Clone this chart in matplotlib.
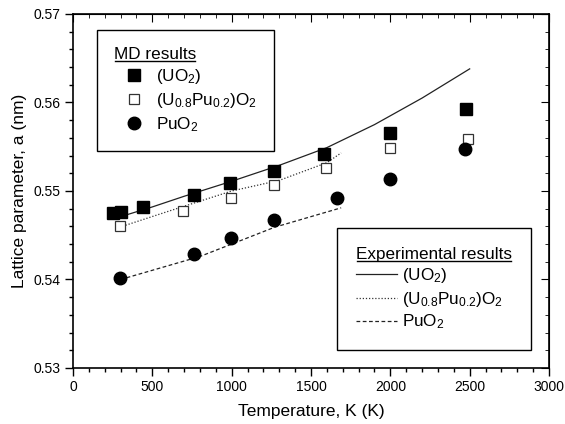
import matplotlib
matplotlib.use('Agg')
import matplotlib.pyplot as plt
from matplotlib.lines import Line2D
from matplotlib.ticker import MultipleLocator

plt.rcParams['font.family'] = ['Liberation Sans', 'DejaVu Sans']
plt.rcParams['mathtext.fontset'] = 'custom'
plt.rcParams['mathtext.rm'] = 'Liberation Sans'
plt.rcParams['mathtext.it'] = 'Liberation Sans'
plt.rcParams['mathtext.default'] = 'regular'

# MD results (points)
uo2_T = [250, 300, 440, 760, 990, 1265, 1585, 1995, 2475]
uo2_a = [0.5475, 0.5476, 0.5482, 0.5496, 0.5509, 0.5523, 0.5542, 0.5566, 0.5593]
mox_T = [295, 695, 995, 1265, 1595, 1995, 2490]
mox_a = [0.5461, 0.5477, 0.5492, 0.5507, 0.5526, 0.5549, 0.5559]
puo2_T = [295, 765, 995, 1265, 1665, 1995, 2470]
puo2_a = [0.5402, 0.5429, 0.5447, 0.5467, 0.5492, 0.5513, 0.5547]

# experimental results (lines)
exp_uo2_T = [300, 500, 700, 1000, 1300, 1600, 1900, 2200, 2500]
exp_uo2_a = [0.5471, 0.5482, 0.5494, 0.5511, 0.5529, 0.5549, 0.5575, 0.5605, 0.5638]
exp_mox_T = [275, 600, 1000, 1300, 1600, 1690]
exp_mox_a = [0.5458, 0.5477, 0.5500, 0.5512, 0.5532, 0.5543]
exp_puo2_T = [300, 800, 1000, 1270, 1690]
exp_puo2_a = [0.5400, 0.5426, 0.5440, 0.5459, 0.5481]

lbl_uo2 = '(UO$_2$)'
lbl_mox = '(U$_{0.8}$Pu$_{0.2}$)O$_2$'
lbl_puo2 = 'PuO$_2$'

fig = plt.figure(figsize=(5.65, 4.24), dpi=100)
ax = fig.add_axes([0.1292, 0.1321, 0.8425, 0.8349])

l1, = ax.plot(exp_uo2_T, exp_uo2_a, '-', color='#222222', lw=0.9)
l2, = ax.plot(exp_mox_T, exp_mox_a, color='#333333', lw=0.9, ls=(0, (1, 1.5)))
l3, = ax.plot(exp_puo2_T, exp_puo2_a, color='#222222', lw=0.9, ls=(0, (3, 2)))

m1, = ax.plot(uo2_T, uo2_a, 's', color='black', ms=8, ls='none')
m2, = ax.plot(mox_T, mox_a, 's', mfc='white', mec='#333333', mew=0.9, ms=7.5, ls='none')
m3, = ax.plot(puo2_T, puo2_a, 'o', color='black', ms=9, ls='none')

ax.set_xlim(0, 3000)
ax.set_ylim(0.53, 0.57)
ax.xaxis.set_major_locator(MultipleLocator(500))
ax.xaxis.set_minor_locator(MultipleLocator(100))
ax.yaxis.set_major_locator(MultipleLocator(0.01))
ax.yaxis.set_minor_locator(MultipleLocator(0.002))
ax.yaxis.set_major_formatter(matplotlib.ticker.FormatStrFormatter('%.2f'))
ax.tick_params(which='both', direction='out', labelsize=10, width=1, pad=3)
ax.tick_params(which='major', length=6)
ax.tick_params(which='minor', length=3)
ax2 = ax.secondary_xaxis('top')
ax2.xaxis.set_major_locator(MultipleLocator(500))
ax2.xaxis.set_minor_locator(MultipleLocator(100))
ax2.tick_params(which='both', direction='in', labeltop=False)
ax2.tick_params(which='major', length=6)
ax2.tick_params(which='minor', length=3)
ay2 = ax.secondary_yaxis('right')
ay2.yaxis.set_major_locator(MultipleLocator(0.01))
ay2.yaxis.set_minor_locator(MultipleLocator(0.002))
ay2.tick_params(which='both', direction='in', labelright=False)
ay2.tick_params(which='major', length=6)
ay2.tick_params(which='minor', length=3)
for s in ax.spines.values():
    s.set_linewidth(1.2)

ax.set_xlabel('Temperature, K (K)', fontsize=12.5, labelpad=7)
ax.set_ylabel('Lattice parameter, a (nm)', fontsize=12.5, labelpad=5)

leg1 = ax.legend([m1, m2, m3], [lbl_uo2, lbl_mox, lbl_puo2], title='MD results',
                 loc='upper left', bbox_to_anchor=(0.050, 0.955), borderaxespad=0,
                 fontsize=12.3, title_fontsize=12.3, alignment='left',
                 handlelength=2.4, handletextpad=0.05, labelspacing=0.3,
                 borderpad=1.0, fancybox=False, edgecolor='black', framealpha=1)
leg1.get_frame().set_linewidth(1.0)
ax.add_artist(leg1)
leg2 = ax.legend([l1, l2, l3], [lbl_uo2, lbl_mox, lbl_puo2], title='Experimental results',
                 loc='lower right', bbox_to_anchor=(0.962, 0.05), borderaxespad=0,
                 fontsize=12.3, title_fontsize=12.3, alignment='left',
                 handlelength=2.4, handletextpad=0.3, labelspacing=0.25,
                 borderpad=1.1, fancybox=False, edgecolor='black', framealpha=1)
leg2.get_frame().set_linewidth(1.0)

# underline the legend titles
fig.canvas.draw()
renderer = fig.canvas.get_renderer()
inv = fig.transFigure.inverted()
for leg in (leg1, leg2):
    bb = leg.get_title().get_window_extent(renderer)
    (x0, y0), (x1, _) = inv.transform([(bb.x0 + 1, bb.y0 + 1), (bb.x1 - 1, bb.y0)])
    fig.add_artist(Line2D([x0, x1], [y0, y0], color='black', lw=1.0))

fig.savefig('out.png', dpi=100)
